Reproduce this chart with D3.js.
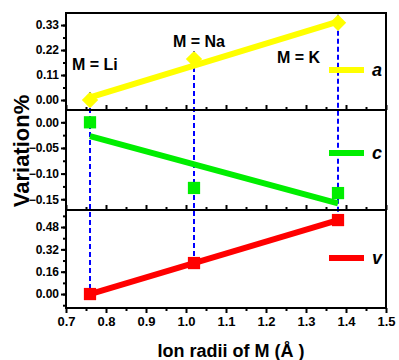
<!DOCTYPE html>
<html>
<head>
<meta charset="utf-8">
<script src="https://cdn.jsdelivr.net/npm/d3@7"></script>
<style>
  body { margin: 0; background: #fff; }
  svg text { font-family: Arial, "Liberation Sans", sans-serif !important; font-weight: 700 !important; }
</style>
</head>
<body>
<div id="graph"></div>
<script>
// ion radii of M (Li, Na, K)
var radii = [0.76, 1.02, 1.38];
var metals = ["Li", "Na", "K"];

// variation % of lattice params
var aVals = [0.00, 0.18, 0.34];
var cVals = [0.00, -0.128, -0.138];
var vVals = [0.00, 0.222, 0.53];

// fitted lines, read at the two end radii
var fitX = [0.76, 1.38];
var aFit = [0.012, 0.345];
var cFit = [-0.027, -0.158];
var vFit = [0.0, 0.53];

var xTicks = [0.7, 0.8, 0.9, 1.0, 1.1, 1.2, 1.3, 1.4, 1.5];
var aTicks = [0.00, 0.11, 0.22, 0.33];
var cTicks = [0.00, -0.05, -0.10, -0.15];
var vTicks = [0.00, 0.16, 0.32, 0.48];

var width = 399, height = 360;
var left = 66, right = 386;

var svg = d3.select("#graph").append("svg")
    .attr("width", width)
    .attr("height", height);

var x = d3.scaleLinear().domain([0.7, 1.5]).range([left, right]);

// three stacked panels
var panels = [
  {key: "a", vals: aVals, fit: aFit, ticks: aTicks, minor: 0.055, fmt: ".2f",
   domain: [-0.044, 0.383], top: 13, bottom: 110, color: "#ffff00", marker: "diamond", legY: 70},
  {key: "c", vals: cVals, fit: cFit, ticks: cTicks, minor: 0.025, fmt: ".2f",
   domain: [-0.171, 0.024], top: 110, bottom: 210, color: "#00ee00", marker: "square", legY: 153},
  {key: "v", vals: vVals, fit: vFit, ticks: vTicks, minor: 0.08, fmt: ".2f",
   domain: [-0.1, 0.602], top: 210, bottom: 308, color: "#ff0000", marker: "square", legY: 258}
];

panels.forEach(function(p) {
  p.y = d3.scaleLinear().domain(p.domain).range([p.bottom, p.top]);
});

// blue dashed guides through all three panels
radii.forEach(function(r, i) {
  svg.append("line")
      .attr("x1", x(r)).attr("x2", x(r))
      .attr("y1", panels[0].y(aVals[i]) - 8)
      .attr("y2", panels[2].y(vVals[i]))
      .attr("stroke", "#0000ff")
      .attr("stroke-width", 2)
      .attr("stroke-dasharray", "5,3");
});

panels.forEach(function(p, pi) {
  var g = svg.append("g");

  // fit line
  g.append("line")
      .attr("x1", x(fitX[0])).attr("y1", p.y(p.fit[0]))
      .attr("x2", x(fitX[1])).attr("y2", p.y(p.fit[1]))
      .attr("stroke", p.color)
      .attr("stroke-width", 6);

  // markers
  var sym = p.marker == "diamond" ? d3.symbolDiamond2 : d3.symbolSquare;
  var size = p.marker == "diamond" ? 170 : 150;
  g.selectAll(".pt").data(p.vals).enter().append("path")
      .attr("d", d3.symbol().type(sym).size(size))
      .attr("transform", function(d, i) {
        return "translate(" + x(radii[i]) + "," + p.y(d) + ")";
      })
      .attr("fill", p.color);

  // y axis, major + minor ticks outward
  var ymin = d3.min(p.ticks) - p.minor, ymax = d3.max(p.ticks) + p.minor;
  var minors = d3.range(Math.round((ymax - ymin) / p.minor) + 1)
      .map(function(k) { return ymin + k * p.minor; })
      .filter(function(v) {
        var py = p.y(v);
        return py > p.top + 1 && py < p.bottom - 1;
      });
  g.append("g")
      .attr("transform", "translate(" + left + ",0)")
      .call(d3.axisLeft(p.y).tickValues(minors).tickSize(3).tickFormat(""))
      .call(function(s) { s.select(".domain").remove(); s.selectAll("line").attr("stroke-width", 2); });
  g.append("g")
      .attr("transform", "translate(" + left + ",0)")
      .call(d3.axisLeft(p.y).tickValues(p.ticks).tickSize(5).tickPadding(2).tickFormat(d3.format(p.fmt)))
      .call(function(s) {
        s.select(".domain").remove();
        s.selectAll("line").attr("stroke-width", 2);
        s.selectAll("text").attr("font-size", 12).attr("fill", "#000");
      });

  // x axis ticks: inward for upper panels, outward for the bottom one
  var isBottom = pi == panels.length - 1;
  var xMinor = d3.range(0.75, 1.5, 0.1);
  var sgn = isBottom ? 1 : -1;
  g.append("g")
      .attr("transform", "translate(0," + p.bottom + ")")
      .call(d3.axisBottom(x).tickValues(xMinor).tickSize(3 * sgn).tickFormat(""))
      .call(function(s) { s.select(".domain").remove(); s.selectAll("line").attr("stroke-width", 2); });
  var xa = g.append("g")
      .attr("transform", "translate(0," + p.bottom + ")")
      .call(d3.axisBottom(x).tickValues(xTicks).tickSize(5 * sgn)
        .tickPadding(isBottom ? 4 : 0)
        .tickFormat(isBottom ? d3.format(".1f") : ""));
  xa.select(".domain").remove();
  xa.selectAll("line").attr("stroke-width", 2);
  xa.selectAll("text").attr("font-size", 13).attr("fill", "#000");

  // panel frame
  g.append("rect")
      .attr("x", left).attr("y", p.top)
      .attr("width", right - left).attr("height", p.bottom - p.top)
      .attr("fill", "none")
      .attr("stroke", "#000")
      .attr("stroke-width", 2);

  // legend
  g.append("line")
      .attr("x1", 329).attr("x2", 364)
      .attr("y1", p.legY).attr("y2", p.legY)
      .attr("stroke", p.color)
      .attr("stroke-width", 6);
  g.append("text")
      .attr("x", 372).attr("y", p.legY + 6)
      .attr("font-size", 18)
      .attr("font-style", "italic")
      .text(p.key);
});

// metal labels
var labelPos = [[72, 70], [173, 47], [277, 63]];
metals.forEach(function(m, i) {
  svg.append("text")
      .attr("x", labelPos[i][0]).attr("y", labelPos[i][1])
      .attr("font-size", 16)
      .text("M = " + m);
});

// axis titles
svg.append("text")
    .attr("transform", "translate(29,151) rotate(-90)")
    .attr("text-anchor", "middle")
    .attr("font-size", 22)
    .text("Variation%");

svg.append("text")
    .attr("x", 231).attr("y", 357)
    .attr("text-anchor", "middle")
    .attr("font-size", 18)
    .text("Ion radii of M (Å )");
</script>
</body>
</html>
